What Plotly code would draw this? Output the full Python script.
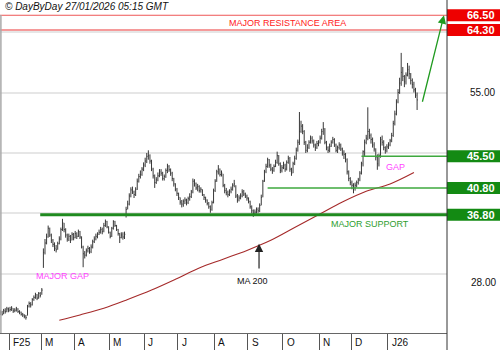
import pandas as pd
import plotly.graph_objects as go

# Daily bars, 24 Jan 2025 -> 27 Jan 2026 (business days)
dates = pd.bdate_range("2025-01-24", "2026-01-27")

closes = [
    22.3, 22.0, 22.5, 22.4, 22.8, 22.6, 22.7, 22.9, 22.5, 22.6,
    22.8, 22.4, 22.3, 22.0, 21.9, 21.7, 21.5, 23.2, 23.6, 23.4,
    24.2, 24.5, 24.9, 24.4, 25.1, 24.8, 25.6, 31.2, 32.6, 33.5,
    34.8, 33.8, 33.0, 32.4, 31.8, 31.6, 32.5, 33.2, 34.6, 35.6,
    34.6, 33.8, 33.2, 33.6, 33.0, 33.9, 33.4, 34.0, 33.6, 34.3,
    33.5, 32.0, 31.0, 30.8, 31.5, 31.8, 31.3, 32.0, 32.8, 33.2,
    33.6, 33.9, 34.2, 34.6, 34.3, 35.2, 35.8, 35.0, 34.2, 33.6,
    34.8, 35.8, 35.2, 34.6, 34.0, 33.4, 33.8, 33.5, 33.9, 37.6,
    38.4, 39.6, 40.5, 40.2, 39.8, 40.6, 41.8, 42.5, 42.8, 43.6,
    44.2, 44.8, 45.5, 45.6, 44.8, 43.6, 42.6, 41.6, 42.0, 42.6,
    43.2, 43.0, 42.2, 42.5, 43.4, 44.0, 43.5, 43.0, 42.2, 41.4,
    40.6, 40.0, 39.4, 38.7, 38.4, 38.8, 39.0, 38.6, 39.2, 39.5,
    40.2, 41.8, 41.5, 40.8, 41.0, 40.4, 40.6, 39.8, 39.4, 39.0,
    38.5, 38.0, 37.6, 38.6, 40.4, 41.8, 43.2, 43.6, 42.8, 43.0,
    41.2, 40.4, 40.1, 39.8, 40.3, 40.6, 41.2, 41.4, 39.6, 39.0,
    39.3, 39.6, 40.2, 39.9, 39.6, 39.3, 38.8, 38.0, 37.4, 37.0,
    37.2, 37.6, 37.4, 38.2, 39.4, 41.8, 43.2, 44.0, 45.0, 44.2,
    43.6, 43.4, 44.0, 44.6, 45.6, 44.4, 43.4, 43.8, 44.2, 43.6,
    44.6, 45.2, 43.6, 43.0, 44.4, 45.2, 46.4, 47.6, 49.2, 50.0,
    49.2, 47.6, 46.4, 46.8, 47.6, 48.2, 47.8, 47.2, 46.8, 47.4,
    47.6, 48.2, 49.2, 49.6, 47.6, 46.8, 46.4, 47.0, 47.6, 48.0,
    47.2, 46.4, 46.8, 47.2, 46.6, 46.0, 45.8, 45.0, 43.2, 42.2,
    41.6, 41.2, 40.8, 41.2, 41.6, 42.0, 43.0, 44.4, 46.2, 47.6,
    48.2, 49.2, 48.6, 48.0, 47.2, 46.6, 45.4, 44.4, 45.6, 48.0,
    47.6, 46.8, 46.4, 46.9, 47.2, 47.8, 48.6, 50.4, 51.8, 53.6,
    55.0, 56.4, 58.0, 57.4, 56.6, 57.6, 58.4, 57.8, 56.8, 56.2,
    55.4, 54.6, 53.9,
]

highs = [
    22.6, 22.5, 22.8, 22.9, 23.1, 23.0, 23.1, 23.2, 22.9, 22.9,
    23.1, 22.9, 22.6, 22.4, 22.2, 22.0, 21.9, 23.4, 23.9, 23.8,
    24.4, 24.8, 25.2, 25.0, 25.3, 25.3, 25.9, 31.8, 33.2, 34.0,
    35.2, 34.9, 34.0, 33.2, 32.7, 32.3, 32.8, 33.6, 34.9, 36.2,
    35.6, 34.8, 34.0, 34.0, 33.8, 34.2, 34.1, 34.4, 34.2, 34.6,
    34.4, 33.6, 32.2, 31.4, 31.8, 32.2, 32.0, 32.4, 33.1, 33.6,
    34.0, 34.2, 34.6, 35.0, 34.9, 35.6, 36.1, 35.9, 35.1, 34.3,
    35.0, 36.0, 35.9, 35.3, 34.7, 34.1, 34.2, 34.2, 34.3, 38.0,
    38.9, 40.0, 40.9, 41.0, 40.4, 40.9, 42.2, 42.9, 43.4, 43.9,
    44.6, 45.3, 46.0, 46.4, 45.8, 45.0, 43.8, 42.8, 42.4, 43.1,
    43.6, 43.6, 43.2, 42.8, 43.7, 44.4, 44.2, 43.7, 43.2, 42.3,
    41.5, 40.8, 40.1, 39.4, 39.0, 39.1, 39.4, 39.2, 39.5, 40.0,
    40.5, 42.2, 42.1, 41.6, 41.4, 41.2, 40.9, 40.6, 39.9, 39.5,
    39.1, 38.7, 38.2, 38.9, 40.7, 42.1, 43.5, 44.2, 43.7, 43.4,
    42.9, 41.4, 40.8, 40.4, 40.6, 41.0, 41.5, 42.0, 41.2, 39.9,
    39.7, 40.0, 40.6, 40.5, 40.1, 39.8, 39.4, 38.9, 38.2, 37.6,
    37.6, 37.9, 37.9, 38.5, 39.8, 42.0, 43.5, 44.4, 45.3, 45.1,
    44.4, 43.9, 44.3, 45.0, 46.2, 45.7, 44.6, 44.2, 44.7, 44.4,
    44.9, 45.6, 45.4, 43.8, 44.7, 45.6, 46.8, 48.0, 52.1, 50.8,
    50.3, 49.4, 47.8, 47.3, 47.9, 48.6, 48.5, 48.0, 47.4, 47.8,
    47.9, 48.6, 49.6, 50.6, 49.7, 47.8, 47.0, 47.4, 47.9, 48.4,
    48.2, 47.4, 47.1, 47.6, 47.4, 46.8, 46.4, 46.0, 45.2, 43.4,
    42.4, 41.9, 41.5, 41.6, 41.9, 42.3, 43.3, 44.7, 46.4, 48.0,
    48.7, 52.8, 49.6, 48.9, 48.3, 47.6, 46.7, 45.8, 45.9, 48.4,
    48.6, 47.9, 47.0, 47.3, 47.6, 48.1, 49.0, 50.8, 52.3, 54.0,
    55.5, 57.2, 60.9, 58.8, 57.6, 58.0, 59.4, 59.0, 57.9, 57.1,
    56.6, 55.7, 55.0,
]

lows = [
    21.9, 21.8, 22.0, 22.1, 22.3, 22.3, 22.4, 22.5, 22.2, 22.3,
    22.4, 22.2, 22.0, 21.8, 21.6, 21.4, 21.2, 21.8, 23.0, 23.0,
    23.3, 24.0, 24.3, 24.1, 24.3, 24.5, 24.9, 28.9, 30.9, 32.4,
    33.4, 33.5, 32.6, 32.0, 31.4, 31.2, 31.6, 32.4, 33.0, 34.4,
    34.2, 33.4, 32.8, 32.9, 32.6, 33.0, 33.0, 33.3, 33.2, 33.5,
    33.2, 31.8, 29.0, 30.3, 30.6, 31.2, 31.0, 31.1, 31.8, 32.6,
    33.0, 33.3, 33.8, 34.0, 33.9, 34.2, 35.0, 34.8, 34.0, 33.3,
    33.5, 34.6, 35.0, 34.4, 33.7, 32.6, 33.3, 33.1, 33.2, 36.4,
    37.6, 38.2, 39.4, 39.9, 39.3, 39.6, 40.5, 41.6, 42.2, 42.6,
    43.3, 43.9, 44.5, 45.0, 44.4, 43.3, 42.2, 40.8, 41.4, 41.8,
    42.4, 42.6, 41.9, 41.9, 42.3, 43.0, 43.2, 42.6, 41.8, 41.0,
    40.3, 39.6, 39.0, 38.3, 37.9, 38.0, 38.4, 38.2, 38.4, 38.9,
    39.3, 40.0, 41.0, 40.5, 40.3, 40.1, 40.1, 39.6, 39.0, 38.6,
    38.2, 37.7, 37.1, 37.4, 38.5, 40.2, 41.7, 42.8, 42.5, 42.5,
    40.9, 40.0, 39.7, 39.4, 39.6, 40.0, 40.4, 40.9, 39.3, 38.6,
    38.8, 39.1, 39.4, 39.6, 39.3, 38.9, 38.5, 37.7, 37.0, 36.5,
    36.7, 37.0, 37.1, 37.2, 38.2, 39.4, 41.7, 43.0, 43.8, 43.8,
    43.3, 42.9, 43.2, 43.9, 44.4, 44.1, 43.0, 43.1, 43.6, 43.2,
    43.4, 44.4, 43.2, 42.6, 43.0, 44.2, 45.0, 46.2, 47.2, 49.0,
    48.8, 47.2, 46.0, 46.1, 46.6, 47.4, 47.4, 46.8, 46.3, 46.6,
    47.0, 47.4, 48.0, 48.7, 47.3, 46.4, 46.0, 46.1, 46.9, 47.4,
    46.9, 46.1, 46.0, 46.5, 46.3, 45.6, 45.1, 44.6, 42.8, 41.8,
    41.2, 40.6, 40.0, 40.4, 40.9, 41.3, 41.8, 42.8, 44.0, 45.5,
    47.3, 47.9, 48.1, 47.4, 46.8, 46.2, 44.9, 43.5, 44.0, 45.3,
    47.1, 46.4, 45.9, 46.1, 46.6, 47.0, 47.6, 48.4, 50.1, 51.6,
    53.4, 54.8, 56.0, 56.7, 55.8, 56.2, 57.4, 57.0, 56.2, 55.6,
    55.0, 54.2, 52.4,
]

# 200-day moving average, sampled every 15 sessions
ma_index = [37, 50, 65, 80, 95, 110, 125, 140, 155, 170, 185, 200, 215, 230, 245, 260]
ma_values = [21.1, 21.9, 22.9, 24.2, 25.6, 27.2, 28.9, 30.2, 31.5, 33.0,
             34.9, 36.8, 38.7, 40.3, 41.4, 43.1]

# Key levels and the session where each support line begins
resistance_levels = [66.50, 64.30]
support_levels = [45.50, 40.80, 36.80]
support_start = [227, 168, 25]

month_labels = ["F25", "M", "A", "M", "J", "J", "A", "S", "O", "N", "D", "J26"]

FONT = "Liberation Sans, Arial, sans-serif"
X_RANGE = [-0.29, 280.8]
Y_RANGE = [19.21, 68.77]
PLOT_W = 447.0

# month separators: first session of each month
month_starts = [i for i in range(1, len(dates)) if dates[i].month != dates[i - 1].month]

# high-low-close bars as one line trace
bx, by = [], []
for i, (h, l, c) in enumerate(zip(highs, lows, closes)):
    bx += [i, i, None, i, i + 0.5, None]
    by += [l, h, None, c, c, None]

fig = go.Figure()
fig.add_trace(go.Scatter(x=bx, y=by, mode="lines",
                         line=dict(color="#383838", width=1), hoverinfo="skip"))
fig.add_trace(go.Scatter(x=ma_index, y=ma_values, mode="lines",
                         line=dict(color="#a52a2a", width=1.1, shape="spline")))

shapes = []
# resistance area lines
shapes.append(dict(type="line", xref="paper", x0=0, x1=1, yref="y",
                   y0=resistance_levels[0], y1=resistance_levels[0],
                   line=dict(color="#ee5555", width=1)))
shapes.append(dict(type="line", xref="paper", x0=0, x1=1, yref="y",
                   y0=resistance_levels[1], y1=resistance_levels[1],
                   line=dict(color="#f59a9a", width=2)))
# support lines
for lvl, start in zip(support_levels, support_start):
    thick = lvl == support_levels[-1]
    shapes.append(dict(type="line", xref="x", x0=start, x1=X_RANGE[1], yref="y",
                       y0=lvl, y1=lvl,
                       line=dict(color="#1f8a1f" if thick else "#3ea83e",
                                 width=3 if thick else 1.5)))
# price boxes on the right
box_half = 6 / 333 * (Y_RANGE[1] - Y_RANGE[0])
for lvl, col in [(v, "#ee0000") for v in resistance_levels] + [(v, "#138a13") for v in support_levels]:
    shapes.append(dict(type="rect", xref="paper", x0=1.0, x1=500 / PLOT_W, yref="y",
                       y0=lvl - box_half, y1=lvl + box_half,
                       fillcolor=col, line=dict(width=0), layer="above"))
# price axis line and left border
shapes.append(dict(type="line", xref="paper", x0=1, x1=1, yref="paper", y0=-17 / 333, y1=1,
                   line=dict(color="#333333", width=1)))
shapes.append(dict(type="line", xref="paper", x0=0.002, x1=0.002, yref="paper", y0=0, y1=1 - 15 / 333,
                   line=dict(color="#aaaaaa", width=1.5)))

ann = []
ann.append(dict(text="<i>© DayByDay 27/01/2026 05:15 GMT</i>", xref="paper", yref="paper",
                x=3 / PLOT_W, y=1 - 7 / 333, xanchor="left", yanchor="middle",
                showarrow=False, font=dict(family=FONT, size=10, color="#111")))
for lvl in resistance_levels + support_levels:
    ann.append(dict(text=f"<b>{lvl:.2f}</b>", xref="paper", yref="y",
                    x=497 / PLOT_W, y=lvl, xanchor="right", yanchor="middle",
                    showarrow=False, font=dict(family=FONT, size=11, color="white")))
ann.append(dict(text="55.00", xref="paper", yref="y", x=497 / PLOT_W, y=55,
                xanchor="right", yanchor="middle", showarrow=False,
                font=dict(family=FONT, size=10, color="#111")))
ann.append(dict(text="28.00", xref="paper", yref="y", x=498 / PLOT_W, y=28, yshift=-9,
                xanchor="right", yanchor="middle", showarrow=False,
                font=dict(family=FONT, size=10, color="#111")))
for pos, lab in zip(month_starts, month_labels):
    ann.append(dict(text=lab, xref="x", yref="paper", x=pos - 0.5, y=-9 / 333,
                    xanchor="left", yanchor="middle", xshift=2, showarrow=False,
                    font=dict(family=FONT, size=10, color="#111")))

ann.append(dict(text="MAJOR RESISTANCE AREA", x=180.2, y=65.4, showarrow=False,
                font=dict(family=FONT, size=9, color="#ff1a1a")))
ann.append(dict(text="MAJOR SUPPORT", x=232.4, y=35.45, showarrow=False,
                font=dict(family=FONT, size=9, color="#2e9e2e")))
ann.append(dict(text="GAP", x=248.1, y=43.9, showarrow=False,
                font=dict(family=FONT, size=9, color="#ff44ff")))
ann.append(dict(text="MAJOR GAP", x=38.7, y=27.7, showarrow=False,
                font=dict(family=FONT, size=9, color="#ff44ff")))
ann.append(dict(text="MA 200", x=158.8, y=26.95, showarrow=False,
                font=dict(family=FONT, size=9, color="#111")))
# arrows
ann.append(dict(text="", x=162.6, y=32.5, ax=162.6, ay=28.6, axref="x", ayref="y",
                showarrow=True, arrowhead=2, arrowsize=1.4, arrowwidth=1.2,
                arrowcolor="#222"))
ann.append(dict(text="", x=278.9, y=66.5, ax=265.1, ay=53.4, axref="x", ayref="y",
                showarrow=True, arrowhead=2, arrowsize=1.3, arrowwidth=1.3,
                arrowcolor="#1f9a1f"))

fig.update_layout(
    width=500, height=350, margin=dict(l=0, r=53, t=0, b=17),
    paper_bgcolor="white", plot_bgcolor="white", showlegend=False,
    shapes=shapes, annotations=ann,
    xaxis=dict(range=X_RANGE, tickvals=[p - 0.5 for p in month_starts], ticktext=[""] * len(month_starts),
               ticks="outside", ticklen=17, tickcolor="#555", tickwidth=1,
               showgrid=False, zeroline=False, showline=True, linecolor="#666", linewidth=1,
               fixedrange=True),
    yaxis=dict(range=Y_RANGE, tickvals=[28, 37, 46, 55, 64], showticklabels=False,
               showgrid=True, gridcolor="#e6e6e6", gridwidth=1.5, zeroline=False,
               showline=False, ticks="", fixedrange=True),
)

fig.write_html("out.html")
